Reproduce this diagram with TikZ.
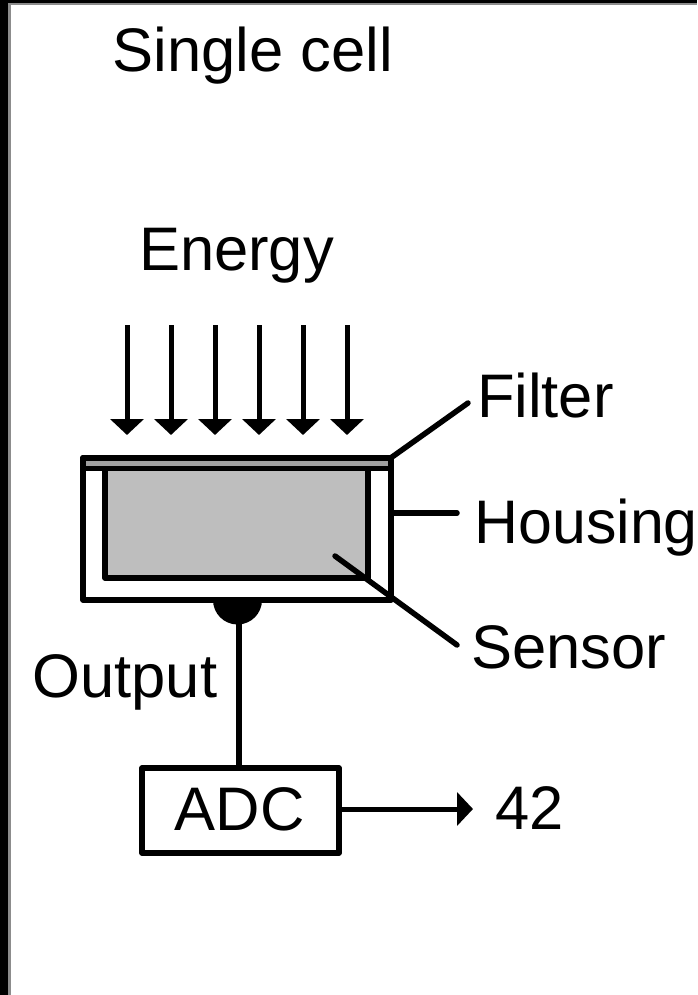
\documentclass[tikz,border=0pt]{standalone}
\usepackage{fontspec}
\usepackage{xcolor}
\usetikzlibrary{arrows.meta}
\setmainfont{Liberation Sans}
\definecolor{filtergray}{HTML}{A0A0A0}
\definecolor{sensorgray}{HTML}{BEBEBE}
\definecolor{framegray}{HTML}{8C8C8C}
\tikzset{
	label/.style={anchor=base west,inner sep=0pt,outer sep=0pt},
	part/.style={draw,line width=5.5pt,line join=round,inner sep=0pt,outer sep=0pt},
	leader/.style={line width=5.5pt,line cap=round},
	energy/.style={line width=5pt,-{Triangle[length=16pt,width=33pt]}},
	wire/.style={line width=5.5pt},
}

\begin{document}
\begin{tikzpicture}[x=1pt,y=-1pt,font=\fontsize{61.5pt}{66pt}\selectfont]
		\useasboundingbox (0,0) rectangle (697,995);
		\fill[black] (0,0) rectangle (697,3);
		\fill[black] (0,0) rectangle (8,995);
		\fill[framegray] (8,3) rectangle (697,5);
		\fill[framegray] (8,3) rectangle (11,995);

		\node[label] (title) at (112.5,72) {Single cell};
		\node[label] (energylabel) at (139,270) {Energy};
		\node[label] (filterlabel) at (477,417) {Filter};
		\node[label,xscale=0.99] (housinglabel) at (474.5,543) {Housing};
		\node[label] (sensorlabel) at (471,668) {Sensor};
		\node[label] (outputlabel) at (32.5,697) {Output};
		\node[label] (value) at (495,829) {42};

		\coordinate (e1top) at (127,325); \coordinate (e1tip) at (127,435);
		\coordinate (e2top) at (171,325); \coordinate (e2tip) at (171,435);
		\coordinate (e3top) at (215,325); \coordinate (e3tip) at (215,435);
		\coordinate (e4top) at (259,325); \coordinate (e4tip) at (259,435);
		\coordinate (e5top) at (303,325); \coordinate (e5tip) at (303,435);
		\coordinate (e6top) at (347,325); \coordinate (e6tip) at (347,435);

		\draw[energy] (e1top) -- (e1tip);
		\draw[energy] (e2top) -- (e2tip);
		\draw[energy] (e3top) -- (e3tip);
		\draw[energy] (e4top) -- (e4tip);
		\draw[energy] (e5top) -- (e5tip);
		\draw[energy] (e6top) -- (e6tip);

		\fill[black] (213,600) arc[start angle=180,end angle=0,radius=24.5] -- cycle;

		\node[part,fill=white,minimum width=308pt,minimum height=142pt] (housing) at (237,529) {};
		\node[part,fill=sensorgray,minimum width=263pt,minimum height=110pt] (sensor) at (236.5,523) {};
		\node[part,fill=filtergray,minimum width=308pt,minimum height=10.5pt] (filter) at (237,463) {};
		\node[part,minimum width=197pt,minimum height=85pt] (adc) at (240.5,810.5) {};
		\node (adclabel) at (239.5,809) {ADC};

		\coordinate (filterend) at (468,403);
		\coordinate (housingend) at (457,513);
		\coordinate (sensorstart) at (335,556);
		\coordinate (sensorend) at (457,645);
		\coordinate (stem) at (239,620);
		\coordinate (adctop) at (239,768);
		\coordinate (arrowtip) at (473,809);
		\coordinate (adcright) at (339,809);

		\draw[leader] (filter.north east) -- (filterend);
		\draw[leader] (housing.east |- housingend) -- (housingend);
		\draw[leader] (sensorstart) -- (sensorend);
		\draw[wire] (stem) -- (adctop);
		\draw[energy] (adcright) -- (arrowtip);
	\end{tikzpicture}
\end{document}
